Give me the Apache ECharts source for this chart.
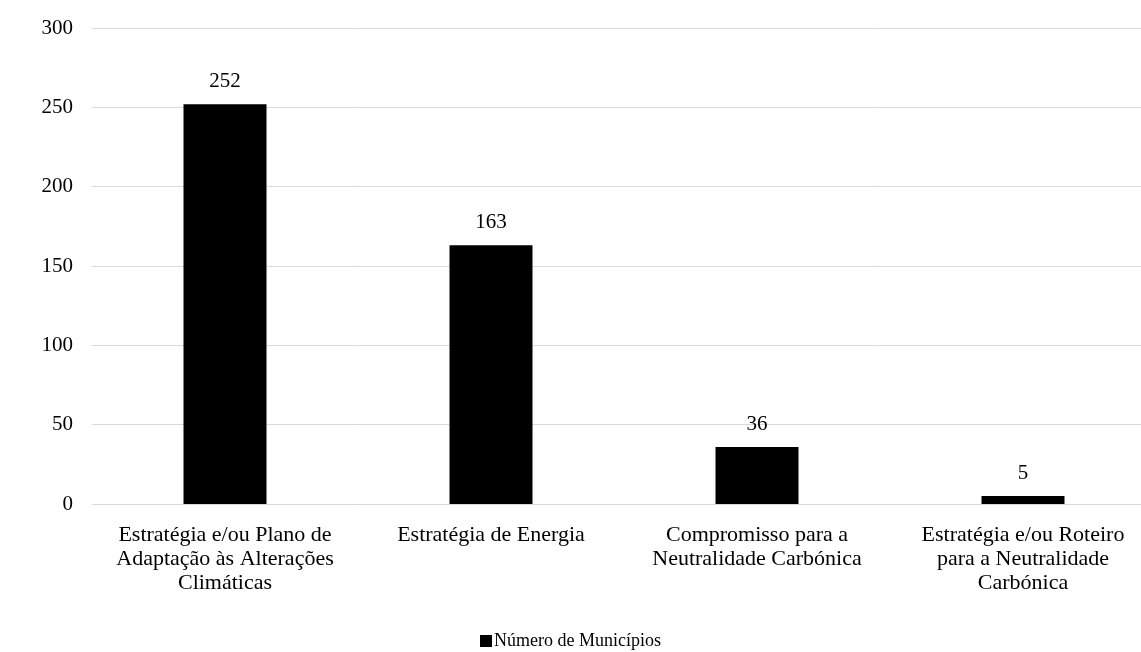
<!DOCTYPE html>
<html>
<head>
<meta charset="utf-8">
<script src="https://cdn.jsdelivr.net/npm/echarts@6/dist/echarts.min.js"></script>
<style>
  html, body { margin: 0; padding: 0; background: #ffffff; }
  #chart { width: 1141px; height: 652px; }
</style>
</head>
<body>
<div id="chart"></div>
<script>
// Categories of municipal climate instruments
const categories = [
  'Estratégia e/ou Plano de\nAdaptação às Alterações\nClimáticas',
  'Estratégia de Energia',
  'Compromisso para a\nNeutralidade Carbónica',
  'Estratégia e/ou Roteiro\npara a Neutralidade\nCarbónica'
];
// Number of municipalities per instrument
const municipios = [252, 163, 36, 5];
const seriesName = 'Número de Municípios';
const yTicks = { min: 0, max: 300, interval: 50 };

const serif = '"Liberation Serif", "Times New Roman", serif';
const chart = echarts.init(document.getElementById('chart'));
chart.setOption({
  animation: false,
  backgroundColor: '#ffffff',
  textStyle: { fontFamily: serif, color: '#000' },
  // the plot area runs a little past the right edge of the page
  grid: { left: 92, top: 28, width: 1064, height: 476, outerBoundsMode: 'none', containLabel: false },
  legend: {
    data: [seriesName],
    top: 627,
    left: 'center',
    icon: 'rect',
    itemWidth: 12,
    itemHeight: 12,
    itemGap: 4,
    textStyle: { fontFamily: serif, fontSize: 18, color: '#000', padding: [0, 0, 0, -3] }
  },
  xAxis: {
    type: 'category',
    data: categories,
    axisLine: { show: false },
    axisTick: { show: false },
    axisLabel: {
      fontFamily: serif, fontSize: 22, color: '#000',
      lineHeight: 24, margin: 19, interval: 0
    }
  },
  yAxis: {
    type: 'value',
    min: yTicks.min, max: yTicks.max, interval: yTicks.interval,
    axisLine: { show: false },
    axisTick: { show: false },
    splitLine: { lineStyle: { color: '#d9d9d9', width: 1 } },
    axisLabel: { fontFamily: serif, fontSize: 21, color: '#000', margin: 19 }
  },
  series: [{
    name: seriesName,
    type: 'bar',
    data: municipios,
    barWidth: 83,
    itemStyle: { color: '#000000' },
    label: {
      show: true, position: 'top', distance: 12,
      fontFamily: serif, fontSize: 21, color: '#000'
    }
  }]
});
</script>
</body>
</html>
